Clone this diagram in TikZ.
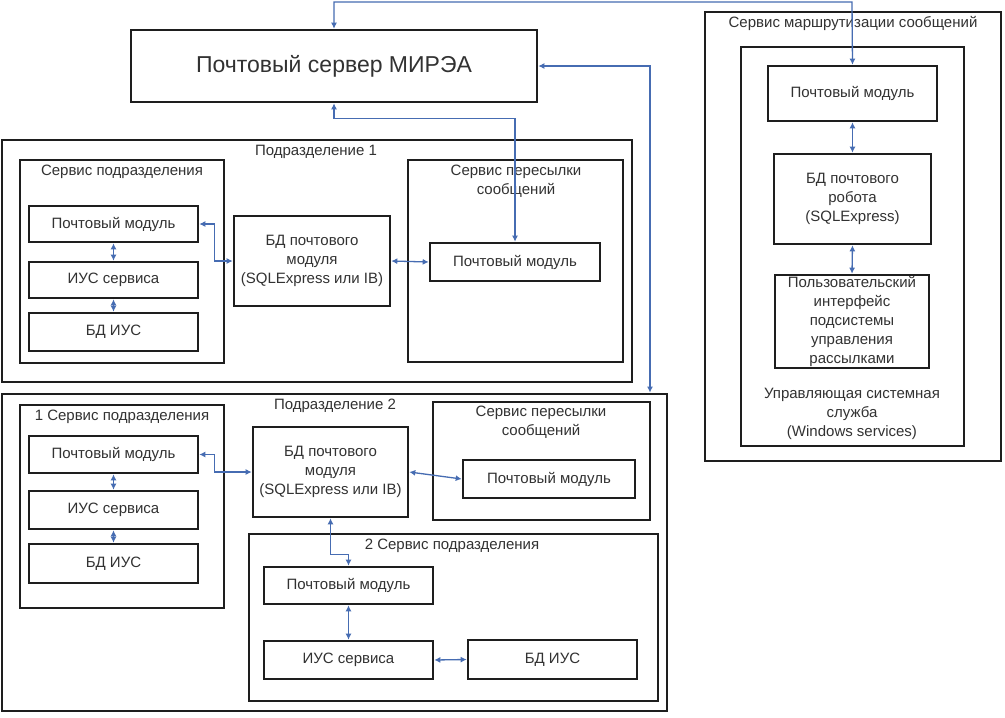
\documentclass[tikz,border=0pt]{standalone}
\usepackage{fontspec}
\setmainfont{Liberation Sans}
\usetikzlibrary{arrows.meta}
\definecolor{conn}{RGB}{70,108,178}
\definecolor{ink}{RGB}{30,30,30}
\definecolor{txt}{RGB}{50,50,50}
\newcommand{\mybx}[7]{%
  \pgfmathsetmacro{\bxw}{#5-#3}%
  \pgfmathsetmacro{\bxh}{#6-#4}%
  \pgfmathsetmacro{\bxcx}{(#3+#5)/2}%
  \pgfmathsetmacro{\bxcy}{(#4+#6)/2}%
  \node[#1,minimum width=\bxw pt,minimum height=\bxh pt] (#2) at (\bxcx,\bxcy) {#7};}
\begin{document}
\begin{tikzpicture}[x=1pt,y=-1pt,
  box/.style={draw=ink,line width=2.6pt,inner sep=0pt,align=center,text=txt,
    font=\fontsize{15}{19}\selectfont},
  outer/.style={draw=ink,line width=2.8pt,inner sep=0pt},
  lbl/.style={text=txt,align=center,inner sep=0pt,font=\fontsize{15}{19}\selectfont},
  link/.style={draw=conn,line width=1.3pt,{Latex[length=6pt,width=6pt]}-{Latex[length=6pt,width=6pt]}}]
\useasboundingbox (0,0) rectangle (1005,718);
\fill[white] (0,0) rectangle (1005,718);

% server
\mybx{box,font=\fontsize{23}{27}\selectfont}{server}{131}{30}{537}{102}{Почтовый сервер МИРЭА}

% Подразделение 1
\mybx{outer}{P1}{2}{140}{632}{382}{}
\node[lbl] (P1l) at (316,152) {Подразделение 1};
\mybx{outer,line width=2.4pt}{SP1}{20}{160}{224}{363}{}
\node[lbl] (SP1l) at (122,172) {Сервис подразделения};
\mybx{box}{PM1a}{29}{206}{198}{242}{Почтовый модуль}
\mybx{box}{IUS1a}{29}{262}{198}{298}{ИУС сервиса}
\mybx{box}{BDIUS1a}{29}{313}{198}{351}{БД ИУС}
\mybx{box}{BD1}{234}{216}{390}{306}{БД почтового\\модуля\\(SQLExpress или IB)}
\mybx{outer,line width=2.4pt}{SPS1}{408}{160}{623}{362}{}
\node[lbl] (SPS1l) at (516,181) {Сервис пересылки\\сообщений};
\mybx{box}{PM1b}{430}{243}{600}{281}{Почтовый модуль}

% Подразделение 2
\mybx{outer}{P2}{2}{394}{667}{711}{}
\node[lbl] (P2l) at (335,406) {Подразделение 2};
\mybx{outer,line width=2.4pt}{SP2a}{20}{405}{224}{608}{}
\node[lbl] (SP2al) at (122,417) {1 Сервис подразделения};
\mybx{box}{PM2a}{29}{436}{198}{473}{Почтовый модуль}
\mybx{box}{IUS2a}{29}{491}{198}{529}{ИУС сервиса}
\mybx{box}{BDIUS2a}{29}{544}{198}{583}{БД ИУС}
\mybx{box}{BD2}{253}{427}{408}{517}{БД почтового\\модуля\\(SQLExpress или IB)}
\mybx{outer,line width=2.4pt}{SPS2}{433}{402}{650}{520}{}
\node[lbl] (SPS2l) at (541,422) {Сервис пересылки\\сообщений};
\mybx{box}{PM2b}{463}{460}{635}{498}{Почтовый модуль}
\mybx{outer,line width=2.4pt}{SP2b}{249}{534}{658}{701}{}
\node[lbl] (SP2bl) at (452,546) {2 Сервис подразделения};
\mybx{box}{PM2c}{264}{567}{433}{604}{Почтовый модуль}
\mybx{box}{IUS2c}{264}{641}{433}{679}{ИУС сервиса}
\mybx{box}{BDIUS2c}{468}{640}{637}{679}{БД ИУС}

% Сервис маршрутизации
\mybx{outer}{R}{705}{12}{1001}{461}{}
\node[lbl] (Rl) at (853,23) {Сервис маршрутизации сообщений};
\mybx{outer,line width=2.4pt}{Ri}{741}{47}{964}{446}{}
\mybx{box}{PMr}{768}{66}{937}{121}{Почтовый модуль}
\mybx{box}{BDr}{774}{154}{931}{244}{БД почтового\\робота\\(SQLExpress)}
\mybx{box}{UIr}{775}{275}{929}{368}{Пользовательский\\интерфейс\\подсистемы\\управления\\рассылками}
\node[lbl] (Ril) at (852,414) {Управляющая системная\\служба\\(Windows services)};

% connectors
\draw[link] (server.north) |- (852,2) -- (PMr.north);
\draw[link] (server.east) -| (650,0 |- P2.north);
\draw[link] (server.south) -- ++(0,15) -| (PM1b.north);

\draw[link] (PM1a.east) -- ++(15,0) |- (BD1.west);
\draw[link] (BD1.east) -- (PM1b.west);
\draw[link] (PM1a.south) -- (IUS1a.north);
\draw[link] (IUS1a.south) -- (BDIUS1a.north);

\draw[link] (PM2a.east) -- ++(15,0) |- (BD2.west);
\draw[link] (BD2.east) -- (PM2b.west);
\draw[link] (PM2a.south) -- (IUS2a.north);
\draw[link] (IUS2a.south) -- (BDIUS2a.north);
\draw[link] (BD2.south) -- ++(0,36) -| (PM2c.north);
\draw[link] (PM2c.south) -- (IUS2c.north);
\draw[link] (IUS2c.east) -- (BDIUS2c.west);

\draw[link] (PMr.south) -- (BDr.north);
\draw[link] (BDr.south) -- (UIr.north);
\end{tikzpicture}
\end{document}
